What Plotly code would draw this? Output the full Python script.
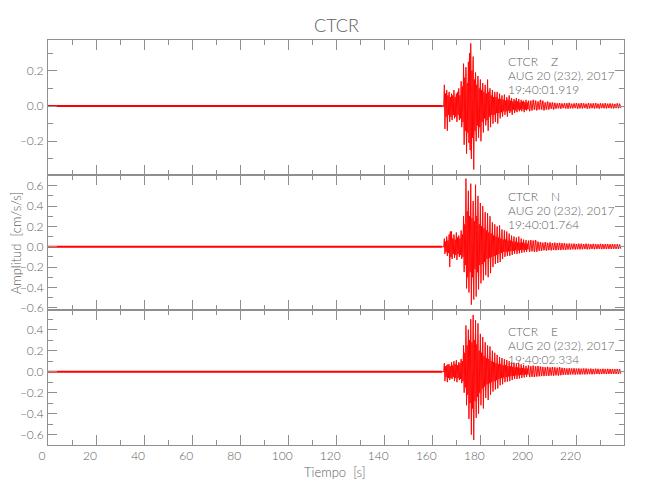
import plotly.graph_objects as go

# ---------------- data ----------------
components = ["Z", "N", "E"]
start_times = ["19:40:01.919", "19:40:01.764", "19:40:02.334"]
date_label = "AUG 20 (232), 2017"
station = "CTCR"

# quiet pre-event part
pre_t = [0, 164]
pre_v = [0.0, 0.0]

# sample times: half-second steps 164..199.5 s, then one-second steps 200..238 s
env_t = [164 + 0.5 * i for i in range(72)] + list(range(200, 239))

# largest positive / negative excursion in each sample window
z_max = [0.005, 0.004, 0.12, 0.07, 0.09, 0.06, 0.08, 0.05, 0.07, 0.06,
         0.09, 0.05, 0.07, 0.08, 0.10, 0.06, 0.14, 0.11, 0.24, 0.16,
         0.22, 0.13, 0.25, 0.30, 0.355, 0.20, 0.28, 0.15, 0.19, 0.12,
         0.17, 0.10, 0.15, 0.09, 0.13, 0.08, 0.12, 0.07, 0.15, 0.08,
         0.10, 0.06, 0.09, 0.05, 0.08, 0.05, 0.08, 0.04, 0.07, 0.04,
         0.06, 0.035, 0.065, 0.03, 0.05, 0.035, 0.06, 0.03, 0.045, 0.025,
         0.04, 0.03, 0.045, 0.025, 0.04, 0.02, 0.035, 0.025, 0.03, 0.02,
         0.035, 0.02,
         0.03, 0.03, 0.035, 0.03, 0.025, 0.035, 0.03, 0.02, 0.025, 0.02, 0.02,
         0.018, 0.015, 0.017, 0.014, 0.016, 0.015, 0.018, 0.013, 0.015, 0.016,
         0.014, 0.017, 0.015, 0.013, 0.016, 0.014, 0.015, 0.017, 0.013, 0.015,
         0.014, 0.016, 0.013, 0.015, 0.014, 0.012, 0.015, 0.013]
z_min = [-0.005, -0.004, -0.13, -0.06, -0.14, -0.05, -0.09, -0.06, -0.08, -0.05,
         -0.07, -0.06, -0.09, -0.05, -0.08, -0.07, -0.12, -0.09, -0.22, -0.14,
         -0.27, -0.15, -0.21, -0.25, -0.30, -0.18, -0.36, -0.14, -0.20, -0.11,
         -0.18, -0.12, -0.20, -0.09, -0.15, -0.07, -0.11, -0.08, -0.14, -0.06,
         -0.12, -0.05, -0.10, -0.05, -0.09, -0.04, -0.10, -0.04, -0.07, -0.035,
         -0.06, -0.03, -0.05, -0.03, -0.06, -0.025, -0.04, -0.03, -0.05, -0.02,
         -0.04, -0.025, -0.035, -0.02, -0.03, -0.02, -0.03, -0.018, -0.035, -0.02,
         -0.025, -0.018,
         -0.03, -0.025, -0.02, -0.025, -0.02, -0.02, -0.025, -0.02, -0.02, -0.015, -0.02,
         -0.015, -0.013, -0.016, -0.012, -0.014, -0.015, -0.013, -0.014, -0.012, -0.015,
         -0.013, -0.014, -0.012, -0.015, -0.013, -0.012, -0.014, -0.013, -0.015, -0.012,
         -0.013, -0.014, -0.012, -0.013, -0.014, -0.012, -0.013, -0.012]

n_max = [0.005, 0.004, 0.08, 0.05, 0.10, 0.06, 0.12, 0.15, 0.15, 0.08,
         0.12, 0.07, 0.14, 0.09, 0.11, 0.08, 0.16, 0.12, 0.30, 0.22,
         0.67, 0.35, 0.55, 0.30, 0.62, 0.28, 0.45, 0.25, 0.61, 0.30,
         0.50, 0.22, 0.43, 0.20, 0.40, 0.18, 0.34, 0.16, 0.33, 0.14,
         0.30, 0.13, 0.24, 0.11, 0.22, 0.10, 0.20, 0.09, 0.21, 0.08,
         0.17, 0.07, 0.16, 0.07, 0.15, 0.06, 0.13, 0.06, 0.11, 0.05,
         0.10, 0.05, 0.09, 0.04, 0.10, 0.04, 0.08, 0.04, 0.07, 0.035,
         0.065, 0.03,
         0.06, 0.065, 0.06, 0.065, 0.05, 0.045, 0.04, 0.045, 0.038, 0.042,
         0.036, 0.04, 0.035, 0.038, 0.034, 0.036, 0.03, 0.032, 0.028, 0.031,
         0.027, 0.03, 0.029, 0.026, 0.03, 0.028, 0.025, 0.029, 0.027, 0.024,
         0.028, 0.026, 0.025, 0.027, 0.024, 0.026, 0.023, 0.025, 0.022]
n_min = [-0.005, -0.004, -0.07, -0.05, -0.09, -0.06, -0.20, -0.10, -0.12, -0.07,
         -0.11, -0.08, -0.13, -0.07, -0.10, -0.08, -0.12, -0.10, -0.25, -0.18,
         -0.41, -0.30, -0.45, -0.25, -0.57, -0.30, -0.52, -0.22, -0.49, -0.25,
         -0.42, -0.18, -0.36, -0.17, -0.33, -0.15, -0.28, -0.12, -0.30, -0.11,
         -0.26, -0.10, -0.20, -0.09, -0.17, -0.08, -0.16, -0.07, -0.15, -0.06,
         -0.12, -0.05, -0.10, -0.05, -0.09, -0.045, -0.09, -0.04, -0.08, -0.04,
         -0.07, -0.035, -0.07, -0.035, -0.065, -0.03, -0.06, -0.03, -0.055, -0.03,
         -0.05, -0.025,
         -0.05, -0.045, -0.05, -0.05, -0.04, -0.04, -0.035, -0.038, -0.033, -0.036,
         -0.032, -0.034, -0.03, -0.033, -0.029, -0.031, -0.027, -0.028, -0.025, -0.027,
         -0.024, -0.026, -0.025, -0.023, -0.026, -0.024, -0.022, -0.025, -0.023, -0.021,
         -0.024, -0.022, -0.023, -0.021, -0.022, -0.02, -0.022, -0.021, -0.02]

e_max = [0.005, 0.004, 0.08, 0.05, 0.06, 0.07, 0.07, 0.05, 0.09, 0.06,
         0.10, 0.07, 0.11, 0.06, 0.09, 0.08, 0.12, 0.10, 0.25, 0.18,
         0.44, 0.25, 0.40, 0.30, 0.50, 0.28, 0.54, 0.30, 0.49, 0.26,
         0.46, 0.20, 0.36, 0.18, 0.33, 0.15, 0.28, 0.13, 0.25, 0.12,
         0.24, 0.10, 0.20, 0.09, 0.18, 0.08, 0.16, 0.07, 0.14, 0.07,
         0.13, 0.06, 0.12, 0.06, 0.11, 0.05, 0.10, 0.05, 0.09, 0.045,
         0.085, 0.04, 0.08, 0.04, 0.08, 0.035, 0.07, 0.035, 0.065, 0.03,
         0.055, 0.03,
         0.06, 0.052, 0.058, 0.05, 0.054, 0.048, 0.045, 0.042, 0.046, 0.04,
         0.044, 0.041, 0.038, 0.043, 0.036, 0.034, 0.031, 0.033, 0.03, 0.032,
         0.029, 0.031, 0.028, 0.03, 0.03, 0.027, 0.029, 0.026, 0.028, 0.027,
         0.025, 0.028, 0.026, 0.027, 0.025, 0.026, 0.024, 0.026, 0.025]
e_min = [-0.005, -0.004, -0.09, -0.05, -0.10, -0.06, -0.08, -0.06, -0.07, -0.05,
         -0.09, -0.06, -0.10, -0.06, -0.08, -0.07, -0.11, -0.09, -0.20, -0.15,
         -0.32, -0.22, -0.45, -0.30, -0.60, -0.35, -0.65, -0.28, -0.44, -0.24,
         -0.40, -0.20, -0.32, -0.16, -0.35, -0.14, -0.25, -0.12, -0.27, -0.11,
         -0.22, -0.10, -0.19, -0.09, -0.17, -0.08, -0.16, -0.07, -0.13, -0.06,
         -0.12, -0.055, -0.10, -0.05, -0.095, -0.045, -0.09, -0.04, -0.08, -0.04,
         -0.07, -0.035, -0.07, -0.035, -0.065, -0.03, -0.06, -0.03, -0.055, -0.025,
         -0.05, -0.025,
         -0.052, -0.048, -0.05, -0.046, -0.044, -0.04, -0.042, -0.038, -0.04, -0.036,
         -0.038, -0.035, -0.037, -0.034, -0.03, -0.028, -0.03, -0.027, -0.026, -0.028,
         -0.025, -0.027, -0.024, -0.026, -0.025, -0.023, -0.025, -0.024, -0.022, -0.024,
         -0.023, -0.021, -0.023, -0.022, -0.021, -0.022, -0.02, -0.021, -0.02]

y_ranges = [[-0.391, 0.374], [-0.622, 0.705], [-0.698, 0.587]]
x_tick_labels = [0, 20, 40, 60, 80, 100, 120, 140, 160, 180, 200, 220]

# ---------------- figure ----------------
AX = "#8f8f8f"
TXT = "#606060"
FONT = "Lato, Liberation Sans, DejaVu Sans"
RED = "#ff0000"

fig = go.Figure()
series = [(z_max, z_min), (n_max, n_min), (e_max, e_min)]
domains = [[2/3, 1.0], [1/3, 2/3], [0.0, 1/3]]

# minimum of each window sits halfway to the next sample time
mid_t = [(a + b) / 2 for a, b in zip(env_t[:-1], env_t[1:])] + [env_t[-1] + 0.5]

for i, (mx, mn) in enumerate(series):
    k = "" if i == 0 else str(i + 1)
    xs, ys = [], []
    for t, tm, a, b in zip(env_t, mid_t, mx, mn):
        xs += [t, tm]
        ys += [a, b]
    band_x = list(env_t) + mid_t[::-1]
    band_y = list(mx) + list(mn)[::-1]
    fig.add_trace(go.Scatter(x=band_x, y=band_y, mode="lines", fill="toself",
                             fillcolor="rgba(255,0,0,0.25)", line=dict(width=0),
                             xaxis="x" + k, yaxis="y" + k, hoverinfo="skip"))
    fig.add_trace(go.Scatter(x=pre_t, y=pre_v, mode="lines",
                             line=dict(color=RED, width=2),
                             xaxis="x" + k, yaxis="y" + k, hoverinfo="skip"))
    fig.add_trace(go.Scatter(x=xs, y=ys, mode="lines",
                             line=dict(color=RED, width=0.9),
                             xaxis="x" + k, yaxis="y" + k, hoverinfo="skip"))

    xa = dict(range=[0, 239.8], domain=[0, 1], anchor="y" + k,
              tickmode="array", tickvals=x_tick_labels,
              ticks="inside", ticklen=10, tickcolor=AX, tickwidth=1,
              minor=dict(dtick=10, tick0=0, ticks="inside", ticklen=5,
                         tickcolor=AX, tickwidth=1),
              showline=True, linecolor=AX, linewidth=1, mirror="ticks",
              showgrid=False, zeroline=False,
              showticklabels=(i == 2),
              tickfont=dict(family=FONT, size=12, color=TXT, weight=300),
              ticklabelshift=-6)
    if i > 0:
        xa["matches"] = "x"
    ya = dict(range=y_ranges[i], domain=domains[i], anchor="x" + k,
              tickmode="linear", tick0=0, dtick=0.2, tickformat=".1f",
              ticks="inside", ticklen=9, tickcolor=AX, tickwidth=1,
              minor=dict(dtick=0.1, tick0=0, ticks="inside", ticklen=5,
                         tickcolor=AX, tickwidth=1),
              showline=True, linecolor=AX, linewidth=1, mirror="ticks",
              showgrid=False, zeroline=False,
              tickfont=dict(family=FONT, size=12, color=TXT, weight=300),
              ticklabelstandoff=1)
    fig.layout["xaxis" + k] = xa
    fig.layout["yaxis" + k] = ya

    lines = [station + "\u00a0\u00a0\u00a0\u00a0" + components[i], date_label, start_times[i]]
    offs = [21, 35, 49]
    for txt, off in zip(lines, offs):
        fig.add_annotation(text=txt, xref="x" + k, yref="y" + k + " domain",
                           x=190.8, y=1 - off / 135, xanchor="left", yanchor="middle",
                           showarrow=False,
                           font=dict(family=FONT, size=12, color=TXT, weight=300))

fig.add_annotation(text=station, xref="paper", yref="paper", x=0.5, y=1.037,
                   xanchor="center", yanchor="middle", showarrow=False,
                   font=dict(family=FONT, size=18, color=TXT, weight=300))
fig.add_annotation(text="Tiempo  [s]", xref="paper", yref="paper", x=0.498, y=-0.067,
                   xanchor="center", yanchor="middle", showarrow=False,
                   font=dict(family=FONT, size=13, color=TXT, weight=300))
fig.add_annotation(text="Amplitud  [cm/s/s]", xref="paper", yref="paper",
                   x=-0.056, y=0.5, textangle=-90,
                   xanchor="center", yanchor="middle", showarrow=False,
                   font=dict(family=FONT, size=13, color=TXT, weight=300))

# page body has an 8 px margin, so the plot box is offset accordingly
fig.update_layout(width=650, height=500,
                  margin=dict(l=40, r=34, t=32, b=63),
                  paper_bgcolor="white", plot_bgcolor="white",
                  showlegend=False)

fig.write_html("out.html")
